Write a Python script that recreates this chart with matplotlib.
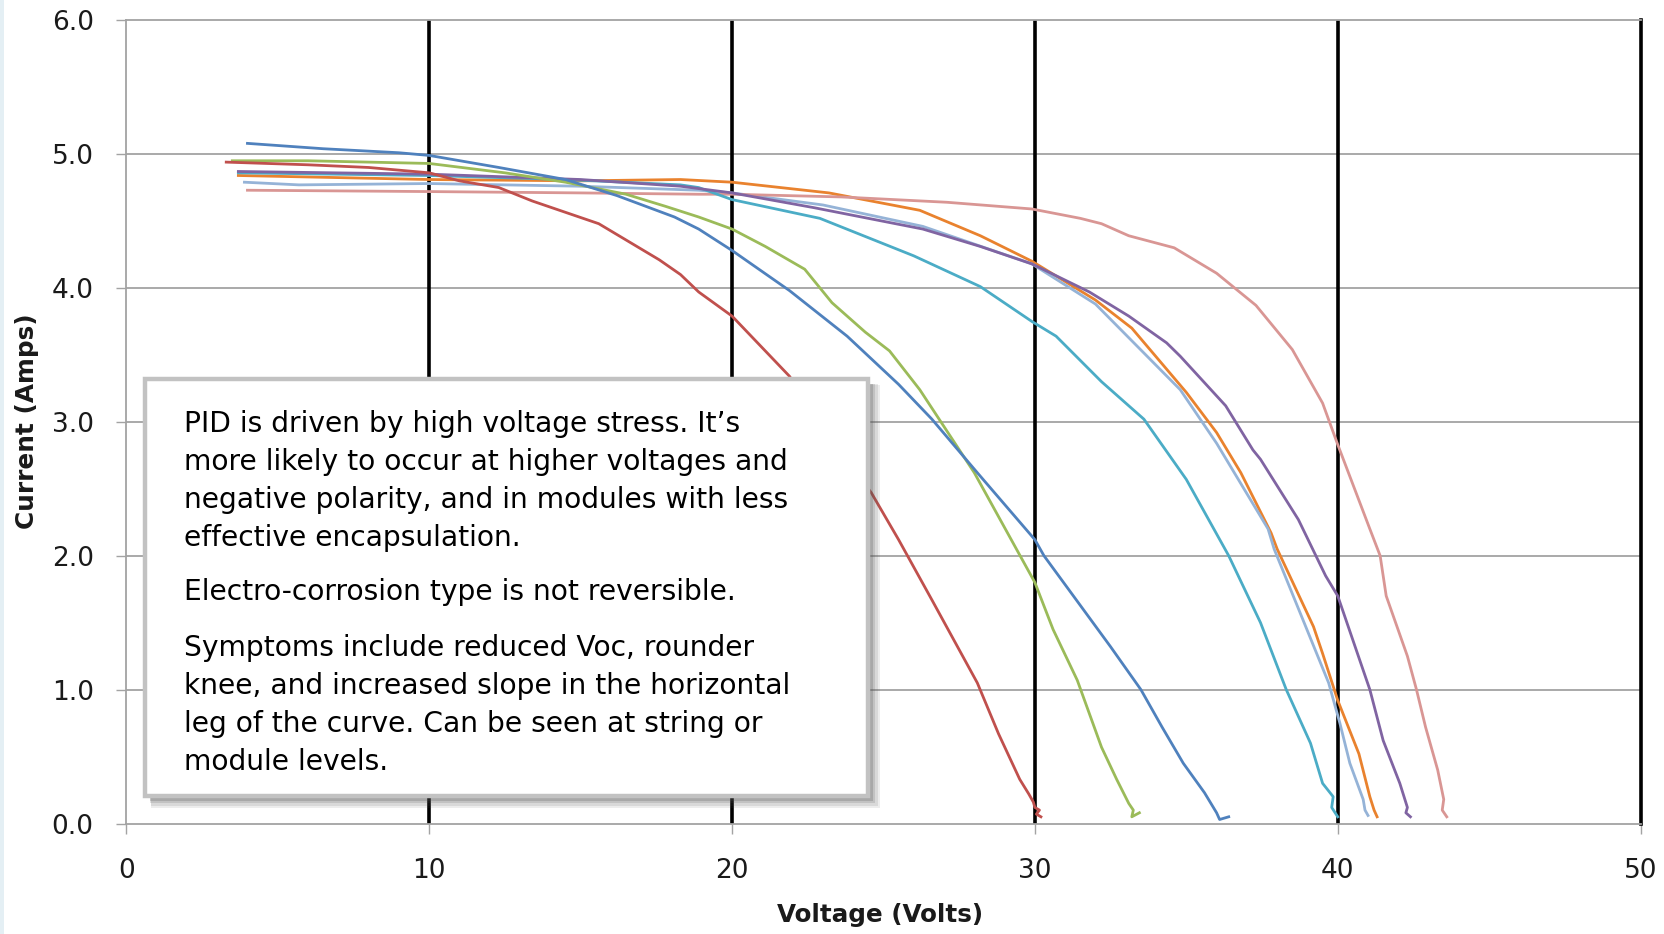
import matplotlib
matplotlib.use("Agg")
import matplotlib.pyplot as plt
from matplotlib import font_manager
from matplotlib.patches import Rectangle
from matplotlib.ticker import FormatStrFormatter

# ---- I-V sweeps of nine modules (Voltage in V, Current in A) ----
m1_v = [4.0, 6.5, 9.0, 10.0, 12.3, 14.5, 16.2, 18.1, 18.9, 20.0, 21.9, 23.8, 25.5, 26.6,
        28.1, 30.0, 30.3, 31.4, 32.5, 33.5, 34.2, 34.9, 35.6, 36.0, 36.1, 36.4]
m1_i = [5.08, 5.04, 5.01, 4.99, 4.90, 4.81, 4.69, 4.53, 4.44, 4.28, 3.98, 3.64, 3.28, 3.02,
        2.62, 2.12, 2.00, 1.66, 1.32, 1.00, 0.72, 0.45, 0.23, 0.08, 0.03, 0.05]

m2_v = [3.3, 6.0, 8.0, 10.0, 11.0, 12.3, 13.4, 15.6, 17.6, 18.3, 18.9, 20.0, 21.9, 23.2,
        24.6, 25.5, 26.6, 28.1, 28.8, 29.5, 29.8, 29.95, 30.0, 30.15, 30.05, 30.2]
m2_i = [4.94, 4.92, 4.90, 4.86, 4.80, 4.75, 4.65, 4.48, 4.21, 4.10, 3.97, 3.79, 3.34, 2.90,
        2.47, 2.12, 1.67, 1.05, 0.67, 0.33, 0.22, 0.16, 0.12, 0.10, 0.07, 0.05]

m3_v = [3.5, 6.0, 10.0, 12.5, 14.5, 16.5, 17.8, 18.9, 20.0, 21.1, 22.4, 23.3, 24.4, 25.2,
        26.2, 28.0, 30.0, 30.6, 31.4, 32.2, 32.7, 33.1, 33.25, 33.2, 33.45]
m3_i = [4.95, 4.95, 4.93, 4.86, 4.79, 4.70, 4.61, 4.53, 4.44, 4.31, 4.14, 3.89, 3.67, 3.53,
        3.24, 2.62, 1.80, 1.45, 1.07, 0.57, 0.33, 0.15, 0.10, 0.05, 0.08]

m4_v = [3.7, 10.0, 15.0, 18.3, 20.0, 22.7, 26.3, 28.2, 29.9, 31.8, 33.1, 34.35, 34.8, 36.3,
        37.2, 37.45, 38.7, 39.6, 40.0, 41.06, 41.5, 42.05, 42.3, 42.25, 42.4]
m4_i = [4.87, 4.85, 4.81, 4.76, 4.71, 4.60, 4.44, 4.31, 4.18, 3.97, 3.79, 3.59, 3.49, 3.12,
        2.79, 2.72, 2.27, 1.85, 1.70, 1.00, 0.62, 0.30, 0.12, 0.08, 0.05]

m5_v = [3.7, 10.0, 14.5, 18.3, 18.9, 20.0, 22.9, 26.0, 28.2, 29.9, 30.7, 32.2, 33.6, 35.0,
        36.4, 37.45, 38.3, 39.1, 39.5, 39.85, 39.8, 40.0]
m5_i = [4.86, 4.84, 4.81, 4.77, 4.75, 4.66, 4.52, 4.24, 4.01, 3.75, 3.64, 3.30, 3.02, 2.57,
        2.00, 1.50, 1.00, 0.60, 0.30, 0.20, 0.12, 0.05]

m6_v = [3.7, 10.0, 15.0, 18.3, 20.0, 23.2, 26.2, 28.2, 29.9, 32.0, 33.2, 35.0, 36.0, 36.8,
        37.8, 38.0, 39.2, 39.5, 40.0, 40.7, 41.06, 41.2, 41.3]
m6_i = [4.84, 4.81, 4.80, 4.81, 4.79, 4.71, 4.58, 4.39, 4.20, 3.91, 3.70, 3.22, 2.92, 2.62,
        2.17, 2.05, 1.47, 1.27, 0.92, 0.52, 0.20, 0.10, 0.05]

m7_v = [3.9, 5.7, 10.0, 15.0, 18.9, 20.0, 23.0, 26.3, 29.9, 32.0, 34.8, 36.0, 37.7, 37.9,
        39.7, 40.07, 40.4, 40.84, 40.9, 41.0]
m7_i = [4.79, 4.77, 4.78, 4.76, 4.73, 4.71, 4.62, 4.46, 4.18, 3.88, 3.24, 2.84, 2.20, 2.05,
        1.05, 0.75, 0.45, 0.18, 0.10, 0.06]

m8_v = [4.0, 10.0, 15.0, 18.9, 20.0, 23.6, 27.1, 29.9, 31.5, 32.2, 33.1, 34.6, 36.0, 37.3,
        38.5, 39.5, 40.0, 41.06, 41.4, 41.6, 42.3, 42.6, 42.9, 43.3, 43.5, 43.45, 43.6]
m8_i = [4.73, 4.72, 4.71, 4.70, 4.70, 4.68, 4.64, 4.59, 4.52, 4.48, 4.39, 4.30, 4.11, 3.87,
        3.54, 3.14, 2.83, 2.20, 2.00, 1.70, 1.25, 1.00, 0.72, 0.40, 0.18, 0.10, 0.05]

curves = [(m6_v, m6_i), (m7_v, m7_i), (m8_v, m8_i), (m5_v, m5_i), (m4_v, m4_i),
          (m3_v, m3_i), (m1_v, m1_i), (m2_v, m2_i)]
curve_colors = ["#E9822E", "#95B3D7", "#D99694", "#4BACC6", "#8064A2",
                "#9BBB59", "#4F81BD", "#C0504D"]

x_ticks = [0, 10, 20, 30, 40, 50]
y_ticks = [0.0, 1.0, 2.0, 3.0, 4.0, 5.0, 6.0]
x_label = "Voltage (Volts)"
y_label = "Current (Amps)"

note_lines = [
    ["PID is driven by high voltage stress. It\u2019s",
     "more likely to occur at higher voltages and",
     "negative polarity, and in modules with less",
     "effective encapsulation."],
    ["Electro-corrosion type is not reversible."],
    ["Symptoms include reduced Voc, rounder",
     "knee, and increased slope in the horizontal",
     "leg of the curve. Can be seen at string or",
     "module levels."],
]


def pick_font(*names):
    for n in names:
        try:
            font_manager.findfont(font_manager.FontProperties(family=n),
                                  fallback_to_default=False)
            return n
        except Exception:
            continue
    return "DejaVu Sans"


narrow = pick_font("DejaVu Sans Condensed", "DejaVu Sans")
wide = "DejaVu Sans"

W, H = 1664, 934
fig = plt.figure(figsize=(W / 100, H / 100), dpi=100)
fig.patch.set_facecolor("white")
renderer = fig.canvas.get_renderer()


def fx(px):
    return px / W


def fy(py):
    return 1 - py / H


def fit_size(txt, target_px, horizontal=True):
    """Rescale a text's font so its extent along the reading direction equals target_px."""
    bb = txt.get_window_extent(renderer=renderer)
    cur = bb.width if horizontal else bb.height
    txt.set_fontsize(txt.get_fontsize() * target_px / cur)


# thin tinted strip on the left margin
fig.patches.append(Rectangle((0, 0), fx(4), 1, transform=fig.transFigure,
                             facecolor="#E4EFF4", edgecolor="none", zorder=0))

left, right, top, bottom = 126.3, 1640.6, 20.2, 823.5
ax = fig.add_axes([fx(left), fy(bottom), fx(right - left), (bottom - top) / H])
ax.set_xlim(x_ticks[0], x_ticks[-1])
ax.set_ylim(y_ticks[0], y_ticks[-1])

grey = "#A3A3A3"
for s in ["left", "bottom", "top"]:
    ax.spines[s].set_color(grey)
    ax.spines[s].set_linewidth(1.3)
ax.spines["right"].set_color("black")
ax.spines["right"].set_linewidth(2.6)

for yv in y_ticks[1:-1]:
    ax.axhline(yv, color=grey, lw=1.3, zorder=1)
for xv in x_ticks[1:-1]:
    ax.axvline(xv, color="black", lw=2.6, zorder=1)

for (v, i), c in zip(curves, curve_colors):
    ax.plot(v, i, color=c, lw=2.0, zorder=3, solid_joinstyle="round")

ax.set_xticks(x_ticks)
ax.set_yticks(y_ticks)
ax.yaxis.set_major_formatter(FormatStrFormatter("%.1f"))
ax.tick_params(axis="both", direction="out", length=7.5, width=1.0, color=grey,
               labelsize=19, labelcolor="#1a1a1a")
ax.tick_params(axis="x", pad=17)
ax.tick_params(axis="y", pad=16)
for lab in ax.get_xticklabels() + ax.get_yticklabels():
    lab.set_family(wide)

xl = fig.text(fx(880), fy(915), x_label, ha="center", va="center",
              fontsize=18, fontweight="bold", family=narrow, color="#1a1a1a")
fit_size(xl, 207)
yl = fig.text(fx(27), fy(421), y_label, ha="center", va="center", rotation=90,
              fontsize=18, fontweight="bold", family=narrow, color="#1a1a1a")
fit_size(yl, 215, horizontal=False)

# annotation panel with soft drop shadow
bx0, by0, bx1, by1 = 145, 379, 868, 796
for k, a in enumerate([0.10, 0.12, 0.16, 0.22]):
    off = 9 - k * 1.5
    grow = 3 - k
    fig.patches.append(Rectangle((fx(bx0 + off - grow), fy(by1 + off + grow)),
                                 fx(bx1 - bx0 + 2 * grow), (by1 - by0 + 2 * grow) / H,
                                 transform=fig.transFigure, facecolor="#505050",
                                 edgecolor="none", alpha=a, zorder=5))
fig.patches.append(Rectangle((fx(bx0), fy(by1)), fx(bx1 - bx0), (by1 - by0) / H,
                             transform=fig.transFigure, facecolor="white",
                             edgecolor="#C2C2C2", linewidth=3.2, zorder=6))

baselines = [[431.5, 470, 508, 546.5], [600.5], [655.5, 693.5, 732, 770]]
note_texts = []
for para, ys in zip(note_lines, baselines):
    for line, yb in zip(para, ys):
        note_texts.append(fig.text(fx(184), fy(yb), line, ha="left", va="baseline",
                                   fontsize=20, family=narrow, color="black", zorder=7))
# size the panel text from its widest line
probe = note_texts[1]
before = probe.get_fontsize()
fit_size(probe, 604)
scaled = probe.get_fontsize()
for t in note_texts:
    t.set_fontsize(scaled)

fig.savefig("out.png", dpi=100, facecolor="white")
